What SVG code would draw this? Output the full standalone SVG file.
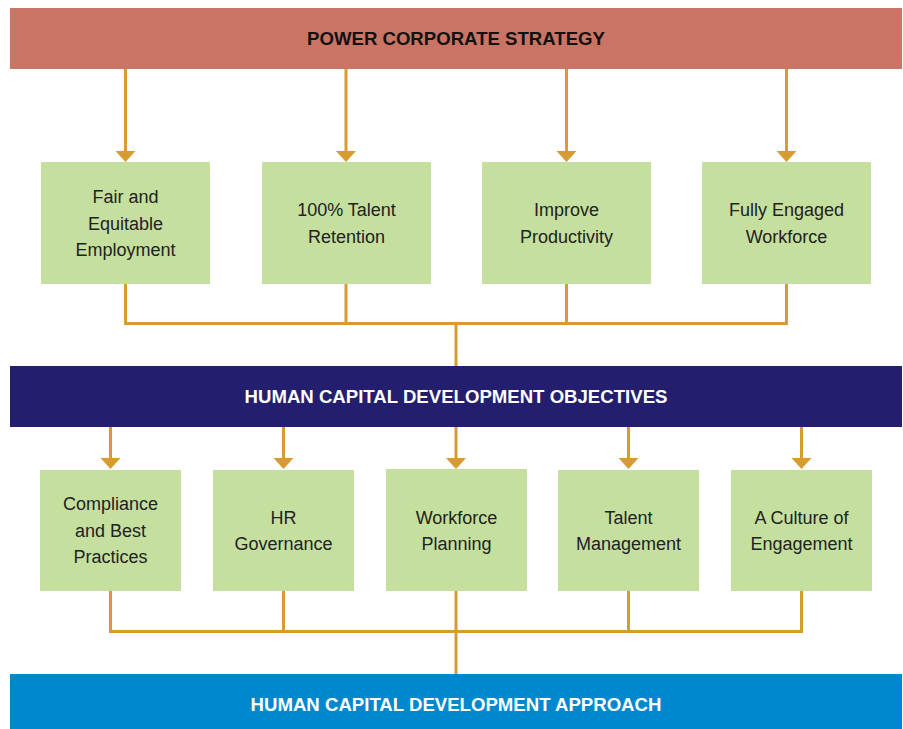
<svg xmlns="http://www.w3.org/2000/svg" width="903" height="729" viewBox="0 0 903 729">
  <defs>
    <marker id="arrow" markerUnits="userSpaceOnUse" markerWidth="12" markerHeight="21" refX="0" refY="10" orient="auto" overflow="visible">
      <path d="M0,0 L11,10 L0,20 Z" fill="#d79b2f"/>
    </marker>
    <style>
      .bar-title { font-family: "Liberation Sans", Arial, sans-serif; font-weight: bold; font-size: 18.6px; text-anchor: middle; }
      .box { fill: #c5df9e; }
      .label { font-family: "Liberation Sans", Arial, sans-serif; font-size: 18px; fill: #222222; text-anchor: middle; }
      .wire { fill: none; stroke: #d79b2f; stroke-width: 3; stroke-linejoin: miter; }
      .feed { stroke: #d79b2f; stroke-width: 3; marker-end: url(#arrow); }
    </style>
  </defs>
  <rect width="903" height="729" fill="#ffffff"/>

  <!-- Top banner -->
  <g id="corporate-strategy">
    <rect x="10" y="8" width="892" height="61" fill="#c97464"/>
    <text class="bar-title" x="456" y="45" fill="#111111">POWER CORPORATE STRATEGY</text>
  </g>

  <!-- Objective row -->
  <g id="fair-employment">
    <rect class="box" x="41" y="162" width="169" height="122"/>
    <text class="label" x="125.5" y="203">Fair and</text>
    <text class="label" x="125.5" y="229.5">Equitable</text>
    <text class="label" x="125.5" y="256">Employment</text>
  </g>
  <g id="talent-retention">
    <rect class="box" x="262" y="162" width="169" height="122"/>
    <text class="label" x="346.5" y="216">100% Talent</text>
    <text class="label" x="346.5" y="243">Retention</text>
  </g>
  <g id="improve-productivity">
    <rect class="box" x="482" y="162" width="169" height="122"/>
    <text class="label" x="566.5" y="216">Improve</text>
    <text class="label" x="566.5" y="243">Productivity</text>
  </g>
  <g id="engaged-workforce">
    <rect class="box" x="702" y="162" width="169" height="122"/>
    <text class="label" x="786.5" y="216">Fully Engaged</text>
    <text class="label" x="786.5" y="243">Workforce</text>
  </g>

  <!-- Middle banner -->
  <g id="hcd-objectives">
    <rect x="10" y="366" width="892" height="61" fill="#231f6e"/>
    <text class="bar-title" x="456" y="403" fill="#ffffff">HUMAN CAPITAL DEVELOPMENT OBJECTIVES</text>
  </g>

  <!-- Programme row -->
  <g id="compliance">
    <rect class="box" x="40" y="470" width="141" height="121"/>
    <text class="label" x="110.5" y="510">Compliance</text>
    <text class="label" x="110.5" y="536.5">and Best</text>
    <text class="label" x="110.5" y="563">Practices</text>
  </g>
  <g id="hr-governance">
    <rect class="box" x="213" y="470" width="141" height="121"/>
    <text class="label" x="283.5" y="523.5">HR</text>
    <text class="label" x="283.5" y="550">Governance</text>
  </g>
  <g id="workforce-planning">
    <rect class="box" x="386" y="469" width="141" height="122"/>
    <text class="label" x="456.5" y="523.5">Workforce</text>
    <text class="label" x="456.5" y="550">Planning</text>
  </g>
  <g id="talent-management">
    <rect class="box" x="558" y="470" width="141" height="121"/>
    <text class="label" x="628.5" y="523.5">Talent</text>
    <text class="label" x="628.5" y="550">Management</text>
  </g>
  <g id="culture-engagement">
    <rect class="box" x="731" y="470" width="141" height="121"/>
    <text class="label" x="801.5" y="523.5">A Culture of</text>
    <text class="label" x="801.5" y="550">Engagement</text>
  </g>

  <!-- Bottom banner -->
  <g id="hcd-approach">
    <rect x="10" y="674" width="892" height="55" fill="#0088cf"/>
    <text class="bar-title" x="456" y="711" fill="#ffffff">HUMAN CAPITAL DEVELOPMENT APPROACH</text>
  </g>

  <!-- Connectors -->
  <g id="connectors">
    <line class="feed" x1="125.5" y1="69" x2="125.5" y2="151"/>
    <line class="feed" x1="346" y1="69" x2="346" y2="151"/>
    <line class="feed" x1="566.5" y1="69" x2="566.5" y2="151"/>
    <line class="feed" x1="786.5" y1="69" x2="786.5" y2="151"/>

    <polyline class="wire" points="125.5,284 125.5,323.5 786.5,323.5 786.5,284"/>
    <line class="wire" x1="346" y1="284" x2="346" y2="323.5"/>
    <line class="wire" x1="566.5" y1="284" x2="566.5" y2="323.5"/>
    <line class="wire" x1="456" y1="323.5" x2="456" y2="366"/>

    <line class="feed" x1="110.5" y1="427" x2="110.5" y2="458"/>
    <line class="feed" x1="283.5" y1="427" x2="283.5" y2="458"/>
    <line class="feed" x1="456" y1="427" x2="456" y2="458"/>
    <line class="feed" x1="628.5" y1="427" x2="628.5" y2="458"/>
    <line class="feed" x1="801.5" y1="427" x2="801.5" y2="458"/>

    <polyline class="wire" points="110.5,591 110.5,631.5 801.5,631.5 801.5,591"/>
    <line class="wire" x1="283.5" y1="591" x2="283.5" y2="631.5"/>
    <line class="wire" x1="628.5" y1="591" x2="628.5" y2="631.5"/>
    <line class="wire" x1="456" y1="591" x2="456" y2="674"/>
  </g>
</svg>
